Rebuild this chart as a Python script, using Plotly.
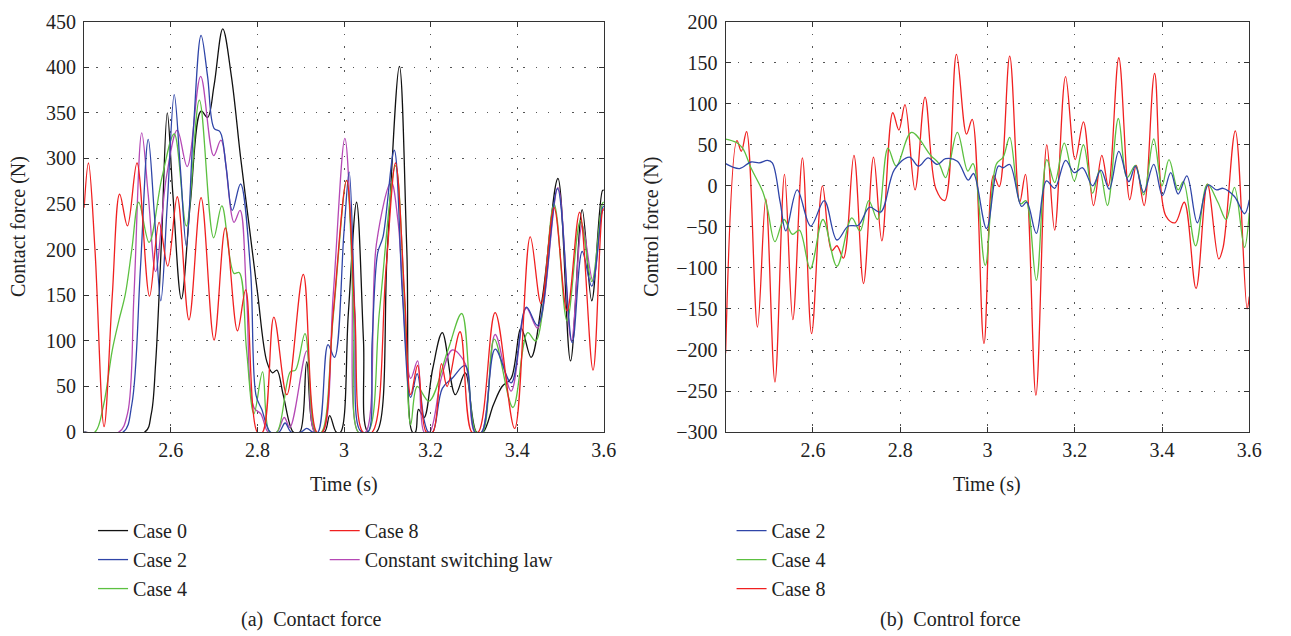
import plotly.graph_objects as go

# ---------------- (a) Contact force (N) ----------------
cf_case0_t = [2.400, 2.540, 2.555, 2.565, 2.579, 2.592, 2.605, 2.6245, 2.645, 2.670, 2.685, 2.700, 2.720,
              2.740, 2.761, 2.780, 2.800, 2.822, 2.835, 2.845, 2.860, 2.883, 2.898, 2.914, 2.933, 2.955,
              2.967, 2.982, 2.992, 3.010, 3.029, 3.045, 3.055, 3.075, 3.100, 3.128, 3.145, 3.158, 3.165,
              3.172, 3.185, 3.205, 3.227, 3.257, 3.280, 3.306, 3.321, 3.345, 3.365, 3.386, 3.409, 3.432,
              3.458, 3.494, 3.523, 3.550, 3.572, 3.597, 3.600]
cf_case0 = [0, 0, 20, 75, 214, 350, 260, 146, 250, 352, 345, 380, 442,
            390, 302, 230, 154, 77, 65, 68, 40, 0, 0, 77, 0, 0,
            18, 0, 0, 130, 252, 100, 0, 0, 200, 401, 200, 0, 0,
            25, 16, 70, 109, 41, 65, 0, 0, 30, 50, 59, 114, 82,
            147, 278, 78, 244, 144, 265, 265]

cf_case2_t = [2.400, 2.490, 2.510, 2.530, 2.548, 2.562, 2.577, 2.592, 2.608, 2.622, 2.636, 2.652, 2.670,
              2.685, 2.700, 2.714, 2.728, 2.742, 2.761, 2.784, 2.797, 2.810, 2.830, 2.850, 2.864, 2.878,
              2.900, 2.914, 2.928, 2.940, 2.963, 2.978, 3.000, 3.012, 3.025, 3.037, 3.055, 3.065, 3.078,
              3.090, 3.116, 3.135, 3.154, 3.169, 3.185, 3.195, 3.205, 3.227, 3.250, 3.280, 3.302, 3.318,
              3.349, 3.386, 3.421, 3.447, 3.493, 3.527, 3.550, 3.572, 3.597, 3.600]
cf_case2 = [0, 0, 30, 180, 321, 240, 144, 250, 370, 290, 204, 330, 435,
            390, 333, 329, 290, 243, 272, 179, 40, 25, 0, 0, 10, 0,
            0, 4, 0, 0, 96, 82, 220, 285, 130, 2, 0, 100, 197,
            214, 309, 150, 38, 64, 13, 0, 0, 48, 59, 73, 0, 0,
            91, 54, 137, 117, 267, 98, 198, 160, 246, 248]

cf_case4_t = [2.400, 2.425, 2.445, 2.465, 2.480, 2.495, 2.510, 2.526, 2.550, 2.580, 2.608, 2.636, 2.666,
              2.699, 2.718, 2.746, 2.758, 2.775, 2.792, 2.812, 2.828, 2.845, 2.876, 2.888, 2.910, 2.935,
              2.948, 2.975, 3.006, 3.022, 3.033, 3.055, 3.082, 3.119, 3.140, 3.154, 3.169, 3.196, 3.240,
              3.272, 3.305, 3.320, 3.347, 3.390, 3.424, 3.443, 3.485, 3.515, 3.546, 3.572, 3.597, 3.600]
cf_case4 = [0, 0, 30, 90, 122, 151, 200, 252, 208, 280, 327, 226, 364,
            213, 248, 174, 175, 90, 20, 66, 0, 0, 66, 68, 108, 0,
            0, 126, 276, 130, 0, 0, 133, 292, 140, 8, 50, 34, 90,
            130, 0, 0, 102, 27, 109, 100, 250, 122, 232, 165, 251, 252]

cf_case8_t = [2.400, 2.410, 2.425, 2.446, 2.465, 2.482, 2.500, 2.522, 2.551, 2.573, 2.593, 2.615, 2.642,
              2.670, 2.700, 2.726, 2.754, 2.773, 2.800, 2.812, 2.838, 2.868, 2.906, 2.937, 2.950, 2.975,
              3.006, 3.025, 3.044, 3.065, 3.097, 3.119, 3.140, 3.154, 3.170, 3.190, 3.205, 3.225, 3.238,
              3.268, 3.295, 3.310, 3.349, 3.394, 3.430, 3.455, 3.485, 3.515, 3.544, 3.575, 3.597, 3.600]
cf_case8 = [246, 295, 200, 6, 150, 261, 226, 295, 149, 230, 182, 258, 123,
            257, 101, 224, 111, 156, 0, 0, 126, 41, 173, 0, 0, 130,
            276, 130, 0, 0, 179, 295, 150, 41, 73, 0, 0, 75, 50,
            110, 0, 0, 131, 4, 214, 141, 246, 133, 241, 68, 243, 245]

cf_const_t = [2.400, 2.480, 2.500, 2.515, 2.533, 2.548, 2.565, 2.590, 2.615, 2.638, 2.669, 2.699, 2.716,
              2.746, 2.760, 2.775, 2.792, 2.808, 2.825, 2.845, 2.862, 2.875, 2.914, 2.932, 2.950, 2.975,
              3.002, 3.018, 3.033, 3.050, 3.075, 3.109, 3.125, 3.154, 3.170, 3.185, 3.198, 3.225, 3.250,
              3.280, 3.302, 3.318, 3.349, 3.386, 3.421, 3.447, 3.494, 3.525, 3.550, 3.575, 3.597, 3.600]
cf_const = [0, 0, 20, 150, 328, 260, 176, 280, 331, 291, 390, 303, 320,
            230, 243, 150, 27, 20, 0, 0, 16, 5, 89, 0, 0, 150,
            322, 200, 0, 0, 207, 274, 230, 59, 78, 0, 0, 60, 90,
            75, 0, 0, 107, 45, 136, 114, 268, 100, 227, 165, 243, 243]

# ---------------- (b) Control force (N) ----------------
uf_case2_t = [2.400, 2.432, 2.458, 2.477, 2.496, 2.507, 2.525, 2.538, 2.564, 2.595, 2.626, 2.655, 2.681,
              2.704, 2.730, 2.755, 2.787, 2.821, 2.842, 2.864, 2.885, 2.904, 2.931, 2.956, 2.968, 2.998,
              3.025, 3.036, 3.051, 3.078, 3.090, 3.112, 3.135, 3.154, 3.179, 3.199, 3.218, 3.241, 3.260,
              3.279, 3.301, 3.324, 3.339, 3.358, 3.381, 3.401, 3.420, 3.437, 3.457, 3.481, 3.506, 3.525,
              3.540, 3.566, 3.589, 3.600]
uf_case2 = [27, 21, 29, 28, 31, 28, -20, -55, -5, -49, -18, -66, -49,
            -48, -26, -32, 20, 35, 24, 34, 26, 33, 30, 7, 15, -52,
            24, 22, 26, -25, -20, -58, 6, -3, 31, 16, 22, 0, 19,
            -4, 42, 5, 24, -8, 26, -12, 16, -10, 12, -45, 1, -5,
            -3, -13, -34, -17]

uf_case4_t = [2.400, 2.424, 2.439, 2.458, 2.485, 2.496, 2.513, 2.534, 2.553, 2.569, 2.594, 2.623, 2.655,
              2.689, 2.708, 2.728, 2.748, 2.772, 2.791, 2.826, 2.870, 2.889, 2.904, 2.931, 2.955, 2.967,
              2.995, 3.020, 3.036, 3.051, 3.076, 3.088, 3.112, 3.136, 3.154, 3.176, 3.199, 3.220, 3.241,
              3.257, 3.275, 3.300, 3.320, 3.339, 3.358, 3.381, 3.400, 3.416, 3.437, 3.449, 3.477, 3.504,
              3.528, 3.547, 3.566, 3.589, 3.600]
uf_case4 = [57, 53, 46, 22, -7, -28, -68, -41, -59, -54, -101, -41, -98,
            -39, -55, -18, -41, 46, 24, 65, 37, 27, 10, 65, 18, 27,
            -97, 26, 35, 59, -22, -18, -115, 32, 4, 52, 6, 50, -9,
            19, -24, 82, 10, 25, -11, 57, 0, 32, -5, 5, -73, 2,
            -20, -41, -2, -75, -33]

uf_case8_t = [2.400, 2.426, 2.436, 2.448, 2.473, 2.492, 2.513, 2.535, 2.554, 2.576, 2.597, 2.622, 2.643,
              2.655, 2.670, 2.694, 2.716, 2.739, 2.758, 2.783, 2.797, 2.811, 2.834, 2.857, 2.882, 2.902,
              2.929, 2.952, 2.965, 2.992, 3.014, 3.027, 3.051, 3.074, 3.087, 3.111, 3.136, 3.154, 3.179,
              3.201, 3.220, 3.243, 3.262, 3.277, 3.301, 3.326, 3.341, 3.359, 3.383, 3.409, 3.430, 3.451,
              3.478, 3.504, 3.530, 3.540, 3.568, 3.595, 3.600]
uf_case8 = [-204, 55, 42, 66, -172, -16, -239, 14, -163, 34, -180, 0, -79,
            -73, -88, 37, -119, 35, -67, 89, 68, 99, -5, 108, -4, -18,
            160, 63, 81, -192, 13, -1, 158, -20, 14, -255, 50, -54, 133,
            32, 78, -24, 37, 0, 156, -17, 25, -24, 137, -37, -45, -20,
            -125, 2, -89, -75, 67, -150, -135]

x_ticks = [2.6, 2.8, 3.0, 3.2, 3.4, 3.6]
x_tick_text = ["2.6", "2.8", "3", "3.2", "3.4", "3.6"]
cf_ticks = list(range(0, 451, 50))
uf_ticks = list(range(-300, 201, 50))

BLACK = "#111111"
BLUE = "#2f45a8"
GREEN = "#5cc040"
RED = "#f02020"
MAGENTA = "#b548b5"

FONT = "Liberation Serif"
FS = 20
TXT = "#222222"
W, H = 1291, 636


def px_x(p):
    return p / W


def px_y(p):
    return 1 - p / H


fig = go.Figure()

line_kw = dict(mode="lines", line_shape="spline")

left_series = [
    ("Case 0", cf_case0_t, cf_case0, BLACK, "legend"),
    ("Case 2", cf_case2_t, cf_case2, BLUE, "legend"),
    ("Case 4", cf_case4_t, cf_case4, GREEN, "legend"),
    ("Case 8", cf_case8_t, cf_case8, RED, "legend2"),
    ("Constant switching law", cf_const_t, cf_const, MAGENTA, "legend2"),
]
# stacking: black underneath, red on top
draw_order = [0, 4, 2, 1, 3]
for i in draw_order:
    name, t, v, c, lg = left_series[i]
    fig.add_trace(go.Scatter(x=t, y=v, name=name, line=dict(color=c, width=1.3),
                             xaxis="x", yaxis="y", legend=lg, legendrank=i, **line_kw))

right_series = [
    ("Case 2", uf_case2_t, uf_case2, BLUE),
    ("Case 4", uf_case4_t, uf_case4, GREEN),
    ("Case 8", uf_case8_t, uf_case8, RED),
]
for i in [2, 1, 0]:
    name, t, v, c = right_series[i]
    fig.add_trace(go.Scatter(x=t, y=v, name=name, line=dict(color=c, width=1.3),
                             xaxis="x2", yaxis="y2", legend="legend3", legendrank=i, **line_kw))

axis_common = dict(
    showline=True, linecolor="#333333", linewidth=1.2, mirror="ticks",
    ticks="inside", ticklen=5, tickcolor="#333333", tickwidth=1,
    showgrid=True, gridcolor="#555555", gridwidth=1, griddash="1.5px,10.7px",
    zeroline=False, tickfont=dict(family=FONT, size=FS, color=TXT),
)

y_dom = [px_y(436.2), px_y(11.0)]

legend_common = dict(xanchor="left", yanchor="top", bgcolor="rgba(0,0,0,0)",
                     font=dict(family=FONT, size=FS, color=TXT), traceorder="normal")

fig.update_layout(
    width=W, height=H,
    margin=dict(l=0, r=0, t=0, b=0),
    paper_bgcolor="white", plot_bgcolor="white",
    font=dict(family=FONT, size=FS, color=TXT),
    xaxis=dict(domain=[px_x(85), px_x(610)], range=[2.4, 3.6], tickvals=x_ticks,
               ticktext=x_tick_text, anchor="y", **axis_common),
    yaxis=dict(domain=y_dom, range=[0, 450], tickvals=cf_ticks, anchor="x",
               ticklabelstandoff=3, **axis_common),
    xaxis2=dict(domain=[px_x(733), px_x(1262)], range=[2.4, 3.6], tickvals=x_ticks,
                ticktext=x_tick_text, anchor="y2", **axis_common),
    yaxis2=dict(domain=y_dom, range=[-300, 200], tickvals=uf_ticks, anchor="x2",
                ticklabelstandoff=3, **axis_common),
    legend=dict(x=px_x(94), y=px_y(518), **legend_common),
    legend2=dict(x=px_x(328), y=px_y(518), **legend_common),
    legend3=dict(x=px_x(739), y=px_y(518), **legend_common),
    showlegend=True,
)

ann_font = dict(family=FONT, size=FS, color=TXT)
annotations = [
    dict(text="Time (s)", x=px_x(347), y=px_y(490), xref="paper", yref="paper",
         showarrow=False, font=ann_font, xanchor="center", yanchor="middle"),
    dict(text="Time (s)", x=px_x(997), y=px_y(490), xref="paper", yref="paper",
         showarrow=False, font=ann_font, xanchor="center", yanchor="middle"),
    dict(text="Contact force (N)", x=px_x(18), y=px_y(223), xref="paper", yref="paper",
         showarrow=False, font=ann_font, textangle=-90, xanchor="center", yanchor="middle"),
    dict(text="Control force (N)", x=px_x(658), y=px_y(223), xref="paper", yref="paper",
         showarrow=False, font=ann_font, textangle=-90, xanchor="center", yanchor="middle"),
    dict(text="(a)\u00a0\u00a0Contact force", x=px_x(315), y=px_y(630), xref="paper", yref="paper",
         showarrow=False, font=ann_font, xanchor="center", yanchor="middle"),
    dict(text="(b)\u00a0\u00a0Control force", x=px_x(960), y=px_y(630), xref="paper", yref="paper",
         showarrow=False, font=ann_font, xanchor="center", yanchor="middle"),
]
fig.update_layout(annotations=annotations)

fig.write_html("out.html")
